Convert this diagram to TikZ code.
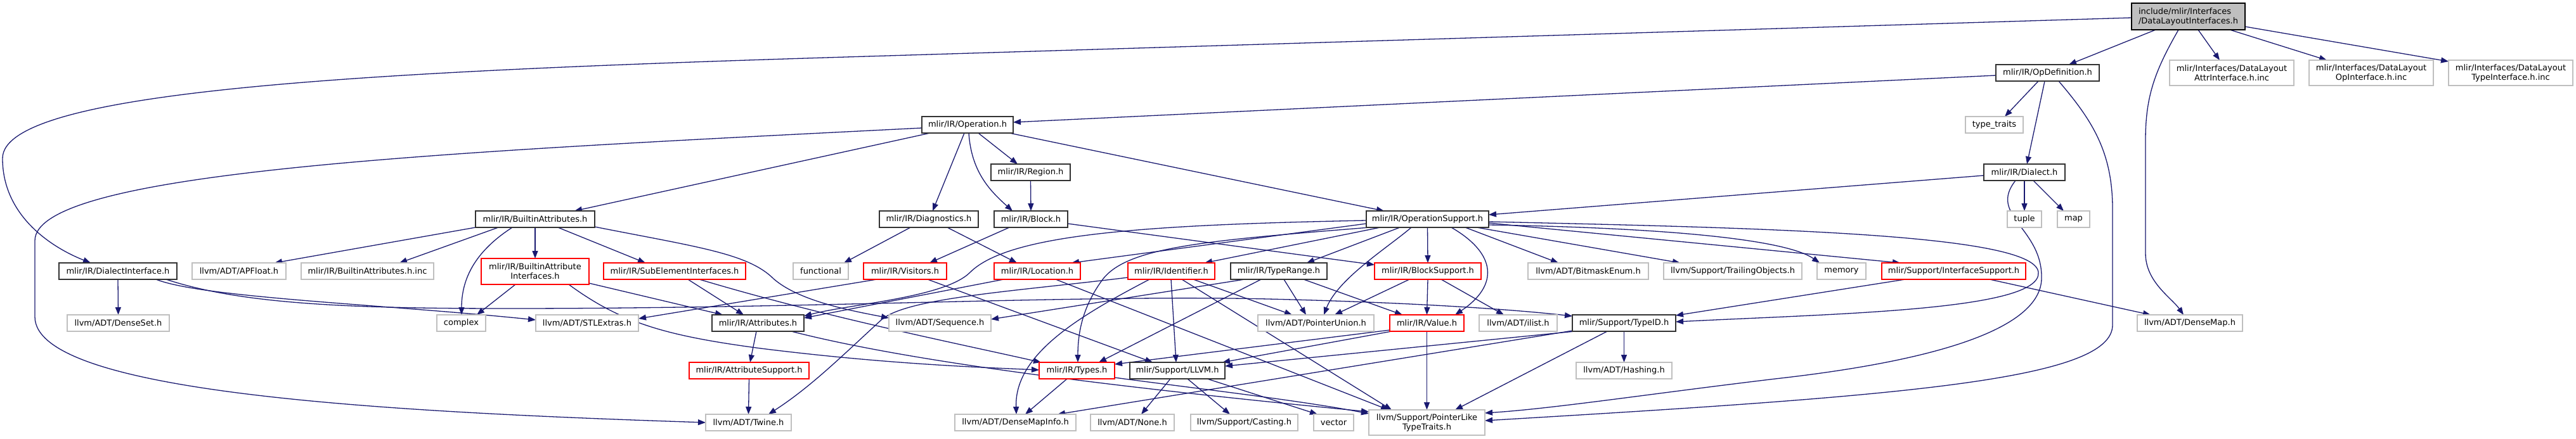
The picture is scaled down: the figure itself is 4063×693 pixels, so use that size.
\documentclass[tikz,border=0pt]{standalone}
\usepackage{fontspec}
\setmainfont{DejaVu Sans}
\usetikzlibrary{arrows.meta,calc,backgrounds}
\definecolor{edgeblue}{RGB}{25,25,112}
\definecolor{extgray}{RGB}{191,191,191}
\definecolor{rootfill}{RGB}{191,191,191}
\definecolor{docblack}{RGB}{50,50,50}
\newcommand{\nodefont}{\fontsize{13}{15}\selectfont}
\begin{document}
\begin{tikzpicture}[x=1pt,y=-1pt,
  box/.style={rectangle, inner sep=0pt, outer sep=0pt, anchor=north west, line width=1.4pt, font=\nodefont, align=center, fill=white},
  sz/.style 2 args={minimum width=#1pt, minimum height=#2pt},
  doc/.style={box, draw=docblack},
  inc/.style={box, draw=red},
  ext/.style={box, draw=extgray},
  e/.style={draw=edgeblue, line width=1.3pt, -{Triangle[length=12pt,width=9pt]}}]
\useasboundingbox (0,0) rectangle (4063,693);

% nodes
\node[box,draw=black,fill=rootfill,align=left,sz={179}{42}] (root) at (3362,5) {include/mlir/Interfaces\\/DataLayoutInterfaces.h};
\node[doc,sz={163}{26}] (opdef) at (3148,102) {mlir/IR/OpDefinition.h};
\node[ext,sz={196}{40}] (attrinc) at (3422,95) {mlir/Interfaces/DataLayout\\AttrInterface.h.inc};
\node[ext,sz={196}{40}] (opinc) at (3642,95) {mlir/Interfaces/DataLayout\\OpInterface.h.inc};
\node[ext,sz={196}{40}] (typeinc) at (3862,95) {mlir/Interfaces/DataLayout\\TypeInterface.h.inc};
\node[ext,sz={91}{26}] (typetraits) at (3100,184) {type\_traits};
\node[doc,sz={128}{26}] (dialect) at (3129,259) {mlir/IR/Dialect.h};
\node[ext,sz={54}{26}] (tuple) at (3166,333) {tuple};
\node[ext,sz={51}{26}] (map) at (3245,333) {map};
\node[ext,sz={166}{26}] (densemap) at (3371,497) {llvm/ADT/DenseMap.h};
\node[inc,sz={227}{26}] (ifsupport) at (2968,415) {mlir/Support/InterfaceSupport.h};
\node[ext,sz={77}{26}] (memory) at (2866,415) {memory};
\node[ext,sz={218}{26}] (trailing) at (2624,415) {llvm/Support/TrailingObjects.h};
\node[ext,sz={190}{26}] (bitmask) at (2410,415) {llvm/ADT/BitmaskEnum.h};
\node[doc,sz={163}{26}] (typeid) at (2480,497) {mlir/Support/TypeID.h};
\node[ext,sz={151}{26}] (hashing) at (2486,572) {llvm/ADT/Hashing.h};
\node[ext,sz={123}{26}] (ilist) at (2333,497) {llvm/ADT/ilist.h};
\node[inc,sz={117}{26}] (value) at (2192,497) {mlir/IR/Value.h};
\node[inc,sz={168}{26}] (blocksupport) at (2168,415) {mlir/IR/BlockSupport.h};
\node[doc,sz={152}{26}] (typerange) at (1941,415) {mlir/IR/TypeRange.h};
\node[ext,sz={183}{26}] (ptrunion) at (1984,497) {llvm/ADT/PointerUnion.h};
\node[ext,sz={183}{40}] (ptrlike) at (2159,647) {llvm/Support/PointerLike\\TypeTraits.h};
\node[ext,sz={63}{26}] (vector) at (2072,654) {vector};
\node[ext,sz={169}{26}] (casting) at (1878,654) {llvm/Support/Casting.h};
\node[ext,sz={132}{26}] (none) at (1720,654) {llvm/ADT/None.h};
\node[ext,sz={191}{26}] (densemapinfo) at (1506,654) {llvm/ADT/DenseMapInfo.h};
\node[inc,sz={119}{26}] (types) at (1639,572) {mlir/IR/Types.h};
\node[doc,sz={150}{26}] (llvm) at (1782,572) {mlir/Support/LLVM.h};
\node[ext,sz={161}{26}] (sequence) at (1402,497) {llvm/ADT/Sequence.h};
\node[inc,sz={131}{26}] (visitors) at (1362,415) {mlir/IR/Visitors.h};
\node[inc,sz={136}{26}] (location) at (1568,415) {mlir/IR/Location.h};
\node[inc,sz={137}{26}] (identifier) at (1779,415) {mlir/IR/Identifier.h};
\node[doc,sz={193}{26}] (opsupport) at (2155,333) {mlir/IR/OperationSupport.h};
\node[doc,sz={156}{26}] (diagnostics) at (1387,333) {mlir/IR/Diagnostics.h};
\node[doc,sz={116}{26}] (block) at (1568,333) {mlir/IR/Block.h};
\node[doc,sz={125}{26}] (region) at (1563,259) {mlir/IR/Region.h};
\node[doc,sz={144}{26}] (operation) at (1454,184) {mlir/IR/Operation.h};
\node[doc,sz={188}{26}] (builtinattr) at (750,333) {mlir/IR/BuiltinAttributes.h};
\node[doc,sz={186}{26}] (dialectif) at (93,415) {mlir/IR/DialectInterface.h};
\node[ext,sz={161}{26}] (denseset) at (106,497) {llvm/ADT/DenseSet.h};
\node[ext,sz={148}{26}] (apfloat) at (303,415) {llvm/ADT/APFloat.h};
\node[ext,sz={209}{26}] (builtininc) at (475,415) {mlir/IR/BuiltinAttributes.h.inc};
\node[inc,sz={170}{41}] (baiface) at (759,408) {mlir/IR/BuiltinAttribute\\Interfaces.h};
\node[inc,sz={224}{26}] (subelem) at (952,415) {mlir/IR/SubElementInterfaces.h};
\node[ext,sz={87}{26}] (functional) at (1251,415) {functional};
\node[ext,sz={77}{26}] (complex) at (689,497) {complex};
\node[ext,sz={162}{26}] (stlextras) at (845,497) {llvm/ADT/STLExtras.h};
\node[doc,sz={145}{26}] (attributes) at (1123,497) {mlir/IR/Attributes.h};
\node[inc,sz={189}{26}] (attrsupport) at (1087,572) {mlir/IR/AttributeSupport.h};
\node[ext,sz={135}{26}] (twine) at (1113,654) {llvm/ADT/Twine.h};

\begin{scope}[on background layer]
\fill[white] (0,0) rectangle (4063,693);
% root
\draw[e] ($(root.south west)+(38,0)$) -- ($(opdef.north west)+(115,0)$);
\draw[e] ($(root.south west)+(74,0)$) .. controls (3400,110) and (3384,150) .. (3384,220) -- (3384,400) .. controls (3384,445) and (3425,470) .. ($(densemap.north west)+(73,0)$);
\draw[e] ($(root.south west)+(105,0)$) -- ($(attrinc.north west)+(79,0)$);
\draw[e] ($(root.south west)+(155,0)$) -- ($(opinc.north west)+(28,0)$);
\draw[e] ($(root.north east)+(0,37)$) -- ($(typeinc.north west)+(0,2)$);
\draw[e] ($(root.north west)+(0,23)$) -- (1400,88) .. controls (600,112) and (4,140) .. (4,250) .. controls (4,340) and (80,390) .. ($(dialectif.north west)+(50,0)$);
% opdef
\draw[e] ($(opdef.south west)+(67,0)$) -- ($(typetraits.north west)+(62,0)$);
\draw[e] ($(opdef.south west)+(77,0)$) -- ($(dialect.north west)+(68,0)$);
\draw[e] ($(opdef.south west)+(99,0)$) .. controls (3300,190) and (3332,240) .. (3332,330) -- (3332,513) .. controls (3332,600) and (3000,625) .. ($(ptrlike.north east)+(0,17)$);
\draw[e] ($(opdef.north west)+(0,17)$) -- ($(operation.north east)+(0,9)$);
% dialect
\draw[e] ($(dialect.south west)+(64,0)$) -- ($(tuple.north west)+(27,0)$);
\draw[e] ($(dialect.south west)+(78,0)$) -- ($(map.north west)+(10,0)$);
\draw[e] ($(dialect.north west)+(0,18)$) -- ($(opsupport.north east)+(0,6)$);
\draw[e] ($(dialect.south west)+(50,0)$) .. controls (3135,340) and (3222,360) .. (3220,440) .. controls (3218,520) and (3050,570) .. (2800,598) .. controls (2600,622) and (2450,645) .. ($(ptrlike.north east)+(0,5)$);
% opsupport
\draw[e] ($(opsupport.north east)+(0,17)$) .. controls (2800,360) and (3210,370) .. (3215,430) .. controls (3220,490) and (2900,495) .. ($(typeid.north east)+(0,11)$);
\draw[e] ($(opsupport.north west)+(0,20)$) -- ($(location.north west)+(122,0)$);
\draw[e] ($(opsupport.south west)+(22,0)$) -- ($(identifier.north west)+(121,0)$);
\draw[e] ($(opsupport.south west)+(53,0)$) -- ($(typerange.north west)+(120,0)$);
\draw[e] (opsupport.south) -- (blocksupport.north);
\draw[e] ($(opsupport.south west)+(156,0)$) -- ($(bitmask.north west)+(48,0)$);
\draw[e] ($(opsupport.south west)+(174,0)$) -- ($(trailing.north west)+(26,0)$);
\draw[e] ($(opsupport.north east)+(0,22)$) .. controls (2650,360) and (2820,380) .. ($(memory.north west)+(4,0)$);
\draw[e] ($(opsupport.north east)+(0,19)$) -- ($(ifsupport.north west)+(29,0)$);
\draw[e] ($(opsupport.south west)+(134,0)$) .. controls (2360,400) and (2365,450) .. ($(value.north west)+(103,0)$);
\draw[e] ($(opsupport.south west)+(71,0)$) .. controls (2190,390) and (2110,440) .. ($(ptrunion.north west)+(104,0)$);
\draw[e] ($(opsupport.south west)+(5,0)$) .. controls (1900,380) and (1780,390) .. (1740,440) .. controls (1710,480) and (1700,520) .. ($(types.north west)+(61,0)$);
\draw[e] ($(opsupport.north west)+(0,15)$) .. controls (1800,355) and (1590,370) .. (1530,430) .. controls (1490,470) and (1340,480) .. ($(attributes.north east)+(0,2)$);
% location
\draw[e] ($(location.south west)+(15,0)$) -- ($(attributes.north east)+(0,5)$);
\draw[e] ($(location.south west)+(97,0)$) -- ($(ptrlike.north west)+(31,0)$);
% identifier
\draw[e] ($(identifier.south west)+(68,0)$) -- ($(llvm.north west)+(73,0)$);
\draw[e] ($(identifier.south west)+(34,0)$) .. controls (1700,500) and (1600,560) .. ($(densemapinfo.north west)+(97,0)$);
\draw[e] ($(identifier.south west)+(103,0)$) -- ($(ptrunion.north west)+(54,0)$);
\draw[e] ($(identifier.south west)+(85,0)$) -- ($(ptrlike.north west)+(36,0)$);
\draw[e] ($(identifier.north west)+(0,23)$) .. controls (1600,460) and (1430,470) .. (1390,505) .. controls (1330,560) and (1280,610) .. ($(twine.north west)+(99,0)$);
% typerange
\draw[e] ($(typerange.south west)+(22,0)$) -- ($(sequence.north east)+(0,7)$);
\draw[e] ($(typerange.south west)+(48,0)$) -- ($(types.north west)+(94,0)$);
\draw[e] ($(typerange.south west)+(84,0)$) -- ($(ptrunion.north west)+(76,0)$);
\draw[e] ($(typerange.south west)+(115,0)$) -- ($(value.north west)+(20,0)$);
% blocksupport
\draw[e] (blocksupport.south) -- (value.north);
\draw[e] ($(blocksupport.south west)+(55,0)$) -- ($(ptrunion.north west)+(121,0)$);
\draw[e] ($(blocksupport.south west)+(105,0)$) -- ($(ilist.north west)+(39,0)$);
% value
\draw[e] ($(value.south west)+(0,-2)$) -- ($(types.north east)+(0,3)$);
\draw[e] ($(value.south west)+(3,0)$) -- ($(llvm.north west)+(146,0)$);
\draw[e] (value.south) -- (ptrlike.north);
% typeid
\draw[e] ($(typeid.south west)+(4,0)$) -- ($(llvm.north east)+(0,6)$);
\draw[e] ($(typeid.south west)+(0,-1)$) -- ($(densemapinfo.north west)+(162,0)$);
\draw[e] (typeid.south) -- (hashing.north);
\draw[e] ($(typeid.south west)+(55,0)$) -- ($(ptrlike.north west)+(136,0)$);
% ifsupport
\draw[e] ($(ifsupport.south west)+(37,0)$) -- ($(typeid.north east)+(0,1)$);
\draw[e] ($(ifsupport.south west)+(170,0)$) -- ($(densemap.north west)+(21,0)$);
% dialect interface
\draw[e] ($(dialectif.south west)+(169,0)$) .. controls (380,480) and (550,487) .. (800,487) .. controls (1300,487) and (1700,465) .. (2000,472) .. controls (2250,478) and (2400,490) .. ($(typeid.north west)+(0,2)$);
\draw[e] ($(dialectif.south west)+(153,0)$) .. controls (320,470) and (600,480) .. ($(stlextras.north west)+(0,8)$);
\draw[e] (dialectif.south) -- (denseset.north);
% builtin attributes
\draw[e] (builtinattr.south west) -- ($(apfloat.north west)+(130,0)$);
\draw[e] ($(builtinattr.south west)+(36,0)$) -- ($(builtininc.north west)+(155,0)$);
\draw[e] ($(builtinattr.south west)+(58,0)$) .. controls (760,390) and (728,430) .. ($(complex.north west)+(39,0)$);
\draw[e] (builtinattr.south) -- (baiface.north);
\draw[e] ($(builtinattr.south west)+(130,0)$) -- ($(subelem.north west)+(66,0)$);
\draw[e] ($(builtinattr.north east)+(0,25)$) .. controls (1100,390) and (1180,400) .. (1220,440) .. controls (1260,475) and (1340,490) .. ($(sequence.north west)+(0,5)$);
% builtin attribute interfaces
\draw[e] ($(baiface.south west)+(54,0)$) -- ($(complex.north west)+(63,0)$);
\draw[e] ($(baiface.north east)+(0,39)$) -- ($(attributes.north west)+(17,0)$);
\draw[e] ($(baiface.south west)+(138,0)$) .. controls (980,510) and (1050,530) .. (1200,550) .. controls (1400,575) and (1550,580) .. ($(types.north west)+(0,12)$);
% subelement
\draw[e] ($(subelem.south west)+(133,0)$) -- ($(attributes.north west)+(50,0)$);
\draw[e] ($(subelem.south west)+(151,0)$) .. controls (1300,500) and (1500,540) .. ($(types.north west)+(3,0)$);
% attributes
\draw[e] ($(attributes.south west)+(70,0)$) -- ($(attrsupport.north west)+(96,0)$);
\draw[e] ($(attributes.south west)+(125,0)$) .. controls (1450,575) and (1800,615) .. ($(ptrlike.north west)+(0,3)$);
\draw[e] (attrsupport.south) -- (twine.north);
% operation
\draw[e] ($(operation.north west)+(0,18)$) .. controls (700,240) and (55,270) .. (55,380) -- (55,500) .. controls (55,620) and (600,650) .. ($(twine.north west)+(0,13)$);
\draw[e] ($(operation.south west)+(13,0)$) -- ($(builtinattr.north west)+(156,0)$);
\draw[e] ($(operation.south west)+(67,0)$) -- ($(diagnostics.north west)+(84,0)$);
\draw[e] ($(operation.south west)+(74,0)$) .. controls (1532,270) and (1560,300) .. ($(block.north west)+(29,0)$);
\draw[e] ($(operation.south west)+(89,0)$) -- ($(region.north west)+(42,0)$);
\draw[e] ($(operation.south west)+(138,0)$) -- ($(opsupport.north west)+(28,0)$);
\draw[e] (region.south) -- (block.north);
% block
\draw[e] ($(block.south west)+(24,0)$) -- ($(visitors.north west)+(104,0)$);
\draw[e] ($(block.north east)+(0,20)$) -- ($(blocksupport.north west)+(0,3)$);
% diagnostics
\draw[e] ($(diagnostics.south west)+(49,0)$) -- ($(functional.north west)+(80,0)$);
\draw[e] ($(diagnostics.south west)+(107,0)$) -- ($(location.north west)+(36,0)$);
% visitors
\draw[e] ($(visitors.south west)+(21,0)$) -- ($(stlextras.north east)+(0,6)$);
\draw[e] ($(visitors.south west)+(101,0)$) -- ($(llvm.north west)+(36,0)$);
% types
\draw[e] ($(types.south west)+(44,0)$) -- ($(densemapinfo.north west)+(111,0)$);
\draw[e] ($(types.north east)+(0,24)$) .. controls (1900,615) and (2050,632) .. ($(ptrlike.north west)+(0,6)$);
% llvm
\draw[e] ($(llvm.south west)+(64,0)$) -- ($(none.north west)+(80,0)$);
\draw[e] ($(llvm.south west)+(91,0)$) -- ($(casting.north west)+(62,0)$);
\draw[e] ($(llvm.south west)+(122,0)$) -- ($(vector.north west)+(6,0)$);
\end{scope}
\end{tikzpicture}
\end{document}
